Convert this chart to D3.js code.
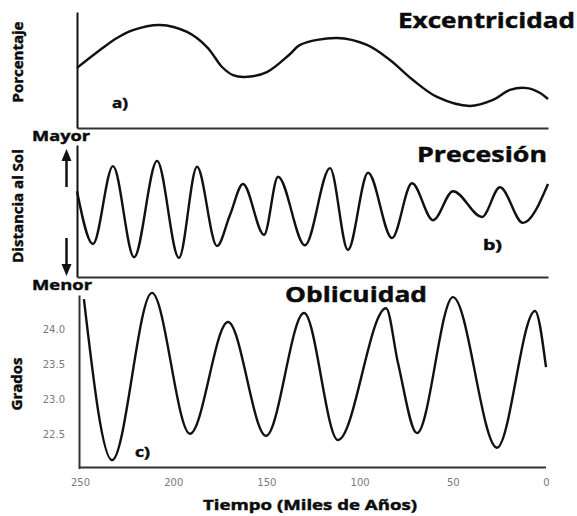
<!DOCTYPE html>
<html>
<head>
<meta charset="utf-8">
<script src="https://cdn.jsdelivr.net/npm/d3@7"></script>
<style>
  body { margin: 0; background: #fff; }
  svg { display: block; }
</style>
</head>
<body>
<svg id="chart" width="577" height="516"></svg>
<script>
// Time axis: thousands of years before present (250 -> 0)
const timeTicks = [250, 200, 150, 100, 50, 0];

// a) Eccentricity (%)
const eccTime  = [250, 237.8, 228.8, 220.3, 205.9, 191.6, 181.0, 173.0, 167.2, 160.8, 149.2, 136.9, 131.6, 112.0, 96.1, 83.9, 71.7, 58.9, 41.4, 29.2, 20.2, 11.1, 4.2, 0];
const eccValue = [2.59, 3.36, 3.88, 4.22, 4.44, 4.14, 3.49, 2.63, 2.28, 2.20, 2.41, 3.19, 3.58, 3.88, 3.58, 2.93, 2.07, 1.34, 0.95, 1.21, 1.64, 1.72, 1.51, 1.25];

// b) Precession (relative Earth-Sun distance index)
const precTime  = [250, 241.5, 230.9, 219.7, 207.5, 195.9, 186.3, 175.7, 168.8, 161.9, 150.7, 143.3, 129.0, 115.7, 106.2, 95.5, 82.8, 72.2, 61.0, 50.4, 35.0, 25.5, 13.3, 0];
const precValue = [0.30, -0.50, 0.68, -0.70, 0.76, -0.71, 0.67, -0.53, -0.06, 0.41, -0.36, 0.52, -0.52, 0.65, -0.59, 0.58, -0.41, 0.42, -0.14, 0.30, -0.09, 0.36, -0.18, 0.41];

// c) Obliquity (degrees)
const oblTime  = [247.9, 232.8, 211.4, 191.0, 170.6, 150.2, 129.8, 111.6, 85.8, 79.4, 69.2, 49.9, 26.3, 5.9, 0];
const oblValue = [24.44, 22.12, 24.53, 22.50, 24.11, 22.47, 24.24, 22.41, 24.31, 23.52, 22.51, 24.47, 22.30, 24.27, 23.46];
const oblTicks = [22.5, 23.0, 23.5, 24.0];

const svg = d3.select("#chart");
const ink = "#0b0b0b";
const boldFont = "'Open Sans', 'Noto Sans', sans-serif";

function zip(xs, ys) { return xs.map((x, i) => ({ t: x, v: ys[i] })); }

function drawCurve(data, x, y, curve) {
  svg.append("path")
    .datum(data)
    .attr("fill", "none")
    .attr("stroke", "#111")
    .attr("stroke-width", 2.4)
    .attr("stroke-linejoin", "round")
    .attr("d", d3.line().x(d => x(d.t)).y(d => y(d.v)).curve(curve));
}

function bareAxis(axis, tx, ty, color, width) {
  const g = svg.append("g").attr("transform", `translate(${tx},${ty})`).call(axis);
  g.select(".domain").attr("stroke", color).attr("stroke-width", width);
  return g;
}

// heavy labels: bold face with a hairline outline in the same ink
function heavy(sel) {
  return sel
    .attr("font-family", boldFont)
    .attr("font-weight", 700)
    .attr("fill", ink)
    .attr("stroke", ink)
    .attr("stroke-width", 0.45)
    .attr("paint-order", "stroke");
}

function label(x, y, str, size, len, anchor) {
  const t = heavy(svg.append("text"))
    .attr("x", x).attr("y", y)
    .attr("font-size", size)
    .attr("text-anchor", anchor || "start")
    .text(str);
  if (len) t.attr("textLength", len).attr("lengthAdjust", "spacingAndGlyphs");
  return t;
}

function vlabel(x, y, str, size) {
  heavy(svg.append("text"))
    .attr("transform", `translate(${x},${y}) rotate(-90)`)
    .attr("font-size", size)
    .attr("text-anchor", "middle")
    .text(str);
}

// ---------- a) Excentricidad ----------
const xA = d3.scaleLinear().domain([250, 0]).range([77, 548]);
const yA = d3.scaleLinear().domain([0, 5]).range([128, 12]);
bareAxis(d3.axisLeft(yA).tickValues([]).tickSizeOuter(0), 77, 0, "#111", 2);
bareAxis(d3.axisBottom(xA).tickValues([]).tickSizeOuter(0), 0, 128, "#333", 2);
drawCurve(zip(eccTime, eccValue), xA, yA, d3.curveCatmullRom.alpha(0.5));
label(575, 28, "Excentricidad", 22, 177, "end");
label(112, 108, "a)", 14, 16);
vlabel(23, 62, "Porcentaje", 15);

// ---------- b) Precesión ----------
const xB = d3.scaleLinear().domain([250, 0]).range([77, 548]);
const yB = d3.scaleLinear().domain([-1, 1]).range([277, 145]);
bareAxis(d3.axisLeft(yB).tickValues([]).tickSizeOuter(0), 77, 0, "#111", 2);
bareAxis(d3.axisBottom(xB).tickValues([]).tickSizeOuter(0), 0, 277, "#333", 2);
drawCurve(zip(precTime, precValue), xB, yB, d3.curveMonotoneX);
label(547, 162, "Precesión", 22, 130, "end");
label(483, 250, "b)", 14, 19);
vlabel(23, 206, "Distancia al Sol", 15);
label(32, 141, "Mayor", 15, 58);
label(32, 290, "Menor", 15, 60);

// arrows beside the distance axis
function arrow(xc, yFrom, yTip) {
  const dir = yTip < yFrom ? -1 : 1;
  const headLen = 12, headHalf = 5;
  svg.append("line")
    .attr("x1", xc).attr("x2", xc)
    .attr("y1", yFrom).attr("y2", yTip - dir * headLen)
    .attr("stroke", "#111").attr("stroke-width", 2.5);
  svg.append("path")
    .attr("d", `M${xc},${yTip} L${xc - headHalf},${yTip - dir * headLen} L${xc + headHalf},${yTip - dir * headLen} Z`)
    .attr("fill", "#111");
}
arrow(66.5, 187, 149);
arrow(66.5, 238, 276);

// ---------- c) Oblicuidad ----------
const xC = d3.scaleLinear().domain([250, 0]).range([80, 546]);
const yC = d3.scaleLinear().domain([22.0, 24.5]).range([468.5, 295]);

const yAxisC = bareAxis(
  d3.axisLeft(yC).tickValues(oblTicks).tickFormat(d3.format(".1f")).tickSize(0).tickPadding(14).tickSizeOuter(0),
  79, 0, "#333", 2);
yAxisC.selectAll(".tick text")
  .attr("font-family", "'DejaVu Sans', sans-serif")
  .attr("font-size", 10)
  .attr("fill", "#7a7a7a");

const xAxisC = bareAxis(
  d3.axisBottom(xC).tickValues(timeTicks).tickFormat(d3.format("d")).tickSize(0).tickPadding(12).tickSizeOuter(0),
  0, 467, "#333", 2);
xAxisC.select(".domain").attr("d", `M79,0.5H546`);
xAxisC.selectAll(".tick text")
  .attr("font-family", "'DejaVu Sans', sans-serif")
  .attr("font-size", 10)
  .attr("fill", "#7a7a7a");

drawCurve(zip(oblTime, oblValue), xC, yC, d3.curveMonotoneX);
label(285, 302, "Oblicuidad", 22, 142);
label(135, 457, "c)", 14, 15);
vlabel(22, 384, "Grados", 15);

label(310, 510, "Tiempo (Miles de Años)", 15, 214, "middle");
</script>
</body>
</html>
